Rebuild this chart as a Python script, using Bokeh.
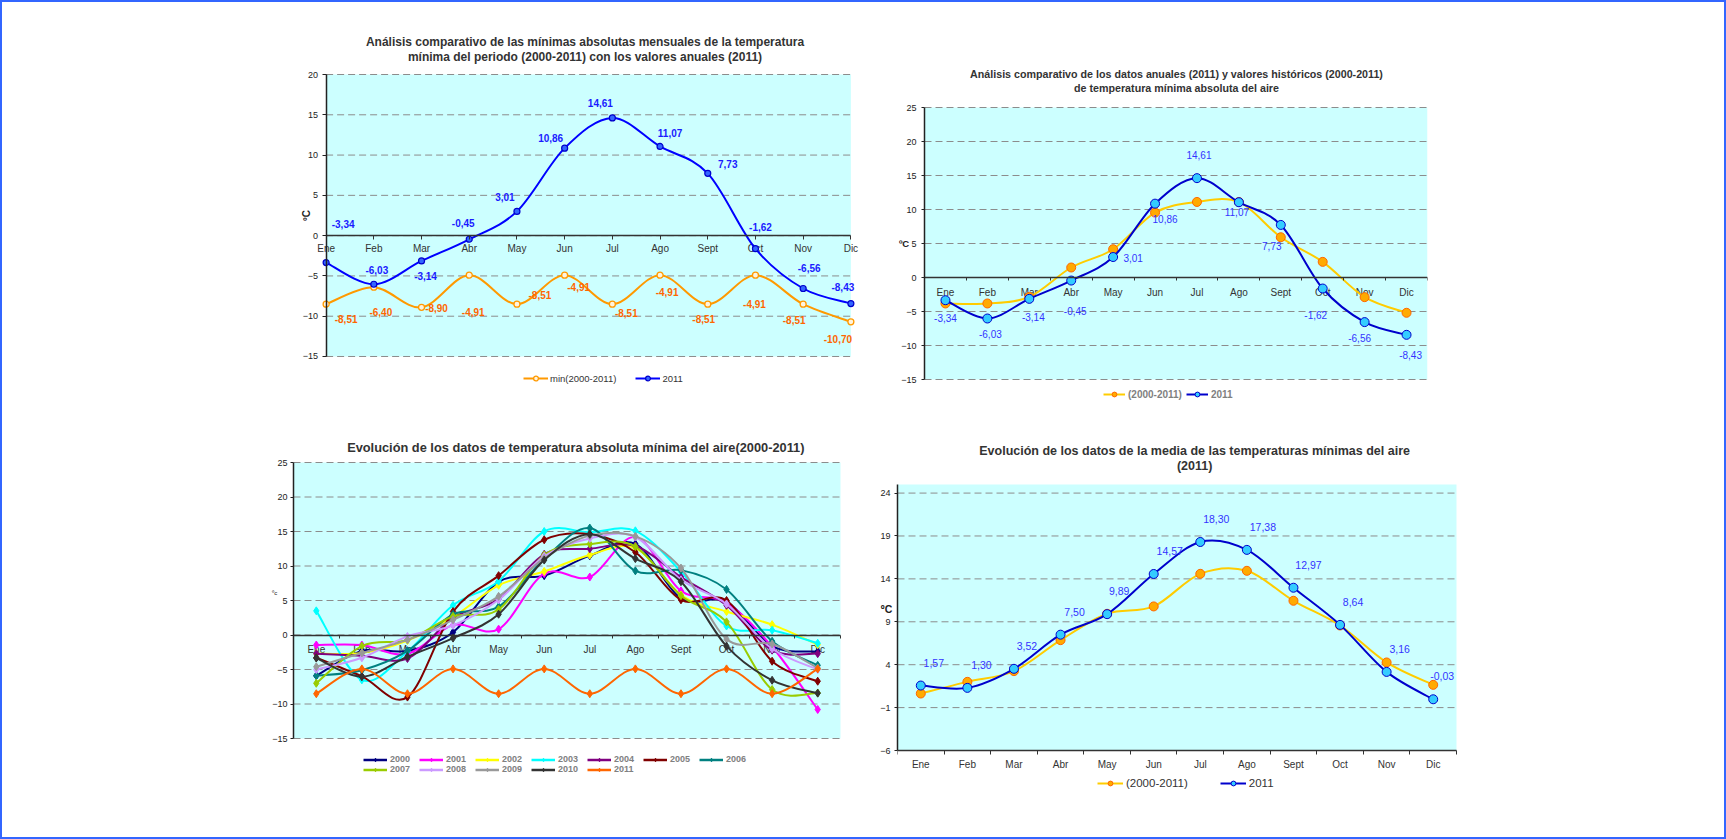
import numpy as np
from bokeh.plotting import figure
from bokeh.models import (ColumnDataSource, FixedTicker, Legend, LegendItem, Spacer, Range1d)
from bokeh.layouts import row, column
from bokeh.embed import file_html
from bokeh.resources import INLINE
from bokeh.core.properties import value

FONT = "Liberation Sans"

months = ["Ene", "Feb", "Mar", "Abr", "May", "Jun", "Jul", "Ago", "Sept", "Oct", "Nov", "Dic"]

# ---- Panel 1: absolute monthly minima
p1_title = ["Análisis comparativo de las mínimas absolutas mensuales de la temperatura",
            "mínima del periodo (2000-2011) con los valores anuales (2011)"]
p1_min_2000_2011 = [-8.51, -6.40, -8.90, -4.91, -8.51, -4.91, -8.51, -4.91, -8.51, -4.91, -8.51, -10.70]
p1_2011 = [-3.34, -6.03, -3.14, -0.45, 3.01, 10.86, 14.61, 11.07, 7.73, -1.62, -6.56, -8.43]
p1_yticks = [-15, -10, -5, 0, 5, 10, 15, 20]

# ---- Panel 2: annual vs historical
p2_title = ["Análisis comparativo de los datos anuales (2011) y valores históricos (2000-2011)",
            "de temperatura mínima absoluta del aire"]
p2_hist = [-3.82, -3.82, -2.85, 1.47, 4.16, 9.55, 11.11, 11.11, 5.92, 2.30, -2.89, -5.19]
p2_2011 = [-3.34, -6.03, -3.14, -0.45, 3.01, 10.86, 14.61, 11.07, 7.73, -1.62, -6.56, -8.43]
p2_yticks = [-15, -10, -5, 0, 5, 10, 15, 20, 25]

# ---- Panel 3: evolution per year
p3_title = ["Evolución de los datos de temperatura absoluta mínima del aire(2000-2011)"]
years = ["2000", "2001", "2002", "2003", "2004", "2005", "2006", "2007", "2008", "2009", "2010", "2011"]
y2000 = [-5.9, -2.3, -2.3, 0.4, 7.7, 8.6, 11.5, 13.2, 5.3, 4.8, -1.6, -2.4]
y2001 = [-1.45, -1.45, -2.75, 1.45, 0.85, 8.9, 8.4, 14.2, 6.4, 4.7, -1.7, -10.8]
y2002 = [-2.7, -2.6, -0.8, 2.6, 7.2, 9.2, 11.6, 12.6, 5.8, 3.4, 1.5, -1.4]
y2003 = [3.5, -6.5, -2.4, 4.3, 7.8, 15.0, 14.9, 15.1, 9.2, 1.3, 0.7, -1.2]
y2004 = [-2.7, -3.0, -3.4, 2.5, 5.2, 11.7, 12.5, 12.9, 8.4, 4.3, -2.2, -2.7]
y2005 = [-3.3, -6.0, -9.0, 3.4, 8.6, 13.8, 14.6, 12.0, 5.1, 5.0, -3.8, -6.7]
y2006 = [-5.9, -5.1, -2.3, 3.0, 4.1, 11.0, 15.5, 9.3, 9.4, 6.6, -0.9, -4.4]
y2007 = [-7.0, -1.6, -0.7, 2.7, 3.7, 11.6, 13.2, 12.8, 5.7, 1.9, -7.9, -8.4]
y2008 = [-5.0, -3.3, -0.2, 1.4, 5.1, 11.4, 14.0, 14.2, 8.0, 4.5, -2.0, -5.0]
y2009 = [-4.6, -2.6, -0.7, 2.2, 5.6, 11.1, 14.4, 14.3, 9.7, -0.6, -1.3, -4.8]
y2010 = [-3.34, -6.03, -3.14, -0.45, 3.01, 10.86, 14.61, 11.07, 7.73, -1.62, -6.56, -8.43]
y2011 = [-8.51, -4.91, -8.51, -4.91, -8.51, -4.91, -8.51, -4.91, -8.51, -4.91, -8.51, -4.91]
year_series = [y2000, y2001, y2002, y2003, y2004, y2005, y2006, y2007, y2008, y2009, y2010, y2011]
year_colors = ["#000080", "#ff00ff", "#ffff00", "#00ffff", "#800080", "#800000",
               "#008080", "#99cc00", "#cc99ff", "#999999", "#333333", "#ff6600"]
p3_yticks = [-15, -10, -5, 0, 5, 10, 15, 20, 25]

# ---- Panel 4: mean of minimum temperatures
p4_title = ["Evolución de los datos de la media de las temperaturas mínimas del aire", "(2011)"]
p4_hist = [0.64, 2.00, 3.25, 6.86, 9.93, 10.79, 14.59, 14.94, 11.45, 8.57, 4.26, 1.65]
p4_2011 = [1.57, 1.30, 3.52, 7.50, 9.89, 14.57, 18.30, 17.38, 12.97, 8.64, 3.16, -0.03]
p4_yticks = [-6, -1, 4, 9, 14, 19, 24]

# data-label offsets in pixels
p1_blue_dx = [17, 3, 4, -6, -12, -14, -12, 10, 20, 5, 6, -8]
p1_blue_dy = [-39, -14, 15, -16, -14, -10, -15, -13, -9, -22, -20, -17]
p1_or_dx = [20, 7, 15, 4, 23, 14, 14, 7, -4, -1, -9, -13]
p1_or_dy = [15, 25, 1, 37, -9, 12, 9, 17, 15, 29, 16, 17]
p2_dx = [0, 3, 4, 4, 20, 10, 2, -2, -9, -7, -5, 4]
p2_dy = [18, 15, 18, 30, 1, 15, -23, 10, 21, 26, 16, 20]
p4_dx = [13, 14, 13, 14, 12, 16, 16, 16, 15, 13, 13, 9]

xs = list(range(12))
GRID = "#8c8c8c"
NAN = np.array([np.nan])


def fmt(v):
    return f"{v:.2f}".replace(".", ",")


def smooth(p, ys, **kw):
    n = len(ys)
    xv = list(range(n))
    d = dict(x0=[], y0=[], x1=[], y1=[], cx0=[], cy0=[], cx1=[], cy1=[])
    for i in range(n - 1):
        a = max(i - 1, 0)
        b = min(i + 2, n - 1)
        d["x0"].append(xv[i]); d["y0"].append(ys[i])
        d["x1"].append(xv[i + 1]); d["y1"].append(ys[i + 1])
        d["cx0"].append(xv[i] + (xv[i + 1] - xv[a]) / 6.0)
        d["cy0"].append(ys[i] + (ys[i + 1] - ys[a]) / 6.0)
        d["cx1"].append(xv[i + 1] - (xv[b] - xv[i]) / 6.0)
        d["cy1"].append(ys[i + 1] - (ys[b] - ys[i]) / 6.0)
    return p.bezier(source=ColumnDataSource(d), x0="x0", y0="y0", x1="x1", y1="y1",
                    cx0="cx0", cy0="cy0", cx1="cx1", cy1="cy1", line_cap="round", **kw)


def legend_line(p, color, width=2):
    # renderer used only for the legend swatch (no visible data)
    return p.line(x=NAN, y=NAN, line_color=color, line_width=width)


def base_fig(fw, fh, mb, xr, yr, area_x, area_top, yticks, grid_ticks, tick_out, label_standoff):
    """The frame also holds the title and legend strips; the cyan plot area is a quad."""
    p = figure(frame_width=fw, frame_height=fh, x_range=Range1d(*xr), y_range=Range1d(*yr),
               output_backend="svg", toolbar_location=None, tools="",
               min_border_left=mb[0], min_border_right=mb[1],
               min_border_top=mb[2], min_border_bottom=mb[3])
    p.title.text = ""
    p.background_fill_color = "white"
    p.border_fill_color = "white"
    p.outline_line_color = None
    p.xgrid.visible = False
    p.ygrid.visible = False
    lo = min(yticks)
    p.quad(left=[area_x[0]], right=[area_x[1]], bottom=[lo], top=[area_top],
           fill_color="#ccffff", line_color=None)
    p.segment(x0=[area_x[0]] * len(grid_ticks), x1=[area_x[1]] * len(grid_ticks),
              y0=grid_ticks, y1=grid_ticks, line_color=GRID, line_dash="7 4", line_width=1)
    ya = p.yaxis[0]
    ya.ticker = FixedTicker(ticks=yticks)
    ya.bounds = (lo, area_top)
    ya.major_label_text_font = FONT
    ya.major_label_text_font_size = "9px"
    ya.major_label_text_color = "#222222"
    ya.major_label_standoff = label_standoff
    ya.axis_line_color = "#222222"
    ya.axis_line_width = 1.5
    ya.major_tick_line_color = "#222222"
    ya.major_tick_out = tick_out
    ya.major_tick_in = 0
    ya.minor_tick_line_color = None
    ya.axis_label_text_font = FONT
    ya.axis_label_text_font_style = "bold"
    ya.axis_label_text_color = "#222222"
    return p


def zero_axis(p, centered, tick_out, bounds):
    """x axis pinned at y=0: line and tick marks only; month names drawn as text."""
    xa = p.xaxis[0]
    marks = [i - 0.5 for i in range(13)] if centered else xs
    xa.ticker = FixedTicker(ticks=[], minor_ticks=marks)
    xa.major_tick_line_color = None
    xa.major_tick_out = 0
    xa.major_tick_in = 0
    xa.minor_tick_line_color = "#333333"
    xa.minor_tick_out = tick_out
    xa.minor_tick_in = 0
    xa.major_label_standoff = 0
    xa.axis_line_color = "#333333"
    xa.axis_line_width = 1.5
    xa.fixed_location = 0
    xa.bounds = bounds


def month_labels(p, dy, size="10px"):
    p.text(x=xs, y=[0] * 12, text=months, y_offset=dy, text_font=value(FONT), text_font_size=size,
           text_color="#333333", text_align="center", text_baseline="middle")


def add_title(p, lines, area_top, size, dx, dys):
    """Title lines drawn centred above the plot area (inside the frame's title strip)."""
    xc = (xs[0] + xs[-1]) / 2.0
    p.text(x=[xc] * len(lines), y=[area_top] * len(lines), text=lines, x_offset=dx, y_offset=dys,
           text_font=value(FONT), text_font_size=size, text_font_style="bold",
           text_color="#333333", text_align="center", text_baseline="middle")


def y_label(p, text, size, standoff, line_height, before=0, after=2, bold=True):
    ya = p.yaxis[0]
    ya.axis_label = "\n" * before + text + "\n" * after
    ya.axis_label_orientation = "horizontal"
    ya.axis_label_text_font_size = size
    ya.axis_label_text_line_height = line_height
    ya.axis_label_standoff = standoff
    ya.axis_label_text_font_style = "bold" if bold else "normal"


def add_legend(p, items, vx, vy, size, bold, color, glyph_w, standoff, spacing, h=12, ncols="auto", label_w=10):
    p.add_layout(Legend(items=items, location=(vx, vy), orientation="horizontal", ncols=ncols,
                        glyph_width=glyph_w, glyph_height=h, label_height=h, label_width=label_w,
                        label_standoff=standoff, spacing=spacing, padding=0, margin=0,
                        border_line_color=None, background_fill_alpha=0,
                        label_text_font=FONT, label_text_font_size=size,
                        label_text_font_style="bold" if bold else "normal",
                        label_text_color=color, label_text_baseline="middle"))


# ================= Panel 1 =================
p1 = base_fig(588, 360, (41, 1, 28, 30), (-0.6 - 6 / 47.727, 11.6), (-15 - 34 / 8.0571, 20 + 44 / 8.0571),
              (0, 11), 20, p1_yticks, p1_yticks, 4, 4)
p1.yaxis.fixed_location = 0
p1.yaxis.axis_label = "ºC"
p1.yaxis.axis_label_text_font_size = "10px"
p1.yaxis.axis_label_standoff = -12
zero_axis(p1, centered=False, tick_out=4, bounds=(0, 11))
month_labels(p1, 13)
smooth(p1, p1_min_2000_2011, line_color="#ff9900", line_width=2)
s1o = p1.scatter(xs, p1_min_2000_2011, marker="circle", size=6, fill_color="#fff4dd", line_color="#ff9900", line_width=1.3)
smooth(p1, p1_2011, line_color="#0000ff", line_width=2)
s1b = p1.scatter(xs, p1_2011, marker="circle", size=6, fill_color="#3366ff", line_color="#0000cc", line_width=1.2)
p1.text(x=xs, y=p1_2011, text=[fmt(v) for v in p1_2011], x_offset=p1_blue_dx, y_offset=p1_blue_dy,
        text_font=value(FONT), text_font_size="10px", text_font_style="bold", text_color="#1a1aff",
        text_align="center", text_baseline="middle")
p1.text(x=xs, y=p1_min_2000_2011, text=[fmt(v) for v in p1_min_2000_2011], x_offset=p1_or_dx, y_offset=p1_or_dy,
        text_font=value(FONT), text_font_size="10px", text_font_style="bold", text_color="#ff6600",
        text_align="center", text_baseline="middle")
add_legend(p1, [LegendItem(label="min(2000-2011)", renderers=[legend_line(p1, "#ff9900"), s1o]),
                LegendItem(label="2011", renderers=[legend_line(p1, "#0000ff"), s1b])],
           232, 6, "9.5px", False, "#333333", 25, 2, 19)
add_title(p1, p1_title, 20, "12px", -3.5, [-33, -18])

# ================= Panel 2 =================
p2 = base_fig(503, 340, (44, 73, 60, 18), (-0.5, 11.5), (-15 - 23 / 6.8, 25 + 45 / 6.8), (-0.5, 11.5), 25,
              p2_yticks, p2_yticks, 3, 5)
y_label(p2, "ºC", "9.5px", -11, 1.01, before=2, after=0)
zero_axis(p2, centered=True, tick_out=3, bounds=(-0.5, 11.5))
month_labels(p2, 15)
smooth(p2, p2_hist, line_color="#ffcc00", line_width=2)
s2o = p2.scatter(xs, p2_hist, marker="circle", size=9, fill_color="#ffaa00", line_color="#ff6600", line_width=1)
smooth(p2, p2_2011, line_color="#0000cc", line_width=2)
s2b = p2.scatter(xs, p2_2011, marker="circle", size=9, fill_color="#33ccff", line_color="#0000cc", line_width=1)
p2.text(x=xs, y=p2_2011, text=[fmt(v) for v in p2_2011], x_offset=p2_dx, y_offset=p2_dy,
        text_font=value(FONT), text_font_size="10px", text_color="#3333ff",
        text_align="center", text_baseline="middle")
add_legend(p2, [LegendItem(label="(2000-2011)", renderers=[legend_line(p2, "#ffcc00"), s2o]),
                LegendItem(label="2011", renderers=[legend_line(p2, "#0000cc"), s2b])],
           179, 2, "10px", True, "#808080", 22, 3, 4)
add_title(p2, p2_title, 25, "10.7px", 0.5, [-33.7, -19.7])

# ================= Panel 3 =================
p3 = base_fig(565, 344, (63, 2, 16, 57), (-0.5, 11.5 + 18 / 45.583), (-15 - 42 / 6.9, 25 + 26 / 6.9),
              (-0.5, 11.5), 25, p3_yticks, p3_yticks, 3, 3)
y_label(p3, "ºc", "6px", -8, 2.54, before=0, after=2, bold=False)
zero_axis(p3, centered=True, tick_out=3, bounds=(-0.5, 11.5))
month_labels(p3, 14)
items3 = []
for yr, ys, col in zip(years, year_series, year_colors):
    smooth(p3, ys, line_color=col, line_width=2)
    sc = p3.scatter(xs, ys, marker="diamond", size=8, fill_color=col, line_color=col)
    items3.append(LegendItem(label=yr, renderers=[legend_line(p3, col, 2.5), sc]))
add_legend(p3, items3, 70, 6, "9px", True, "#808080", 24, 3, 0, h=9, ncols=7, label_w=29)
add_title(p3, p3_title, 25, "12.8px", 8.8, [-14.7])

# ================= Panel 4 =================
p4 = base_fig(594, 355, (37, 9, 20, 42), (-0.5, 11.5 + 35 / 46.583), (-6 - 45 / 8.581, 25 + 44 / 8.581),
              (-0.5, 11.5), 25, p4_yticks, p4_yticks[1:], 3, 4)
y_label(p4, "ºC", "10.5px", -15, 1.45, before=0, after=1)
xa4 = p4.xaxis[0]
xa4.ticker = FixedTicker(ticks=xs, minor_ticks=[i - 0.5 for i in range(13)])
xa4.fixed_location = min(p4_yticks)
xa4.bounds = (-0.5, 11.5)
xa4.major_tick_line_color = None
xa4.major_tick_out = 0
xa4.minor_tick_line_color = "#333333"
xa4.minor_tick_out = 4
xa4.minor_tick_in = 0
xa4.major_label_overrides = {i: m for i, m in enumerate(months)}
xa4.major_label_text_font = FONT
xa4.major_label_text_font_size = "10px"
xa4.major_label_text_color = "#333333"
xa4.major_label_standoff = 4
xa4.axis_line_color = "#333333"
xa4.axis_line_width = 1.5
smooth(p4, p4_hist, line_color="#ffcc00", line_width=2)
s4o = p4.scatter(xs, p4_hist, marker="circle", size=9, fill_color="#ffaa00", line_color="#ff6600", line_width=1)
smooth(p4, p4_2011, line_color="#0000cc", line_width=2)
s4b = p4.scatter(xs, p4_2011, marker="circle", size=9, fill_color="#33ccff", line_color="#0000cc", line_width=1)
p4.text(x=xs, y=p4_2011, text=[fmt(v) for v in p4_2011], x_offset=p4_dx, y_offset=-23,
        text_font=value(FONT), text_font_size="10.5px", text_color="#3333ff",
        text_align="center", text_baseline="middle")
add_legend(p4, [LegendItem(label="(2000-2011)", renderers=[legend_line(p4, "#ffcc00"), s4o]),
                LegendItem(label="2011", renderers=[legend_line(p4, "#0000cc"), s4b])],
           200, 6, "11.5px", False, "#333333", 26, 3, 32)
add_title(p4, p4_title, 25, "12.5px", 17.6, [-33.3, -18.3])

top = row(Spacer(width=250, height=418), column(p1), column(p2))
bottom = row(Spacer(width=230, height=417), column(p3), column(p4))
root = column(Spacer(width=10, height=2), top, bottom, Spacer(width=10, height=2),
              width=1726, height=839,
              styles={"outline": "2px solid #3366ff", "outline-offset": "-2px"})

open("out.html", "w").write(file_html(root, INLINE))
